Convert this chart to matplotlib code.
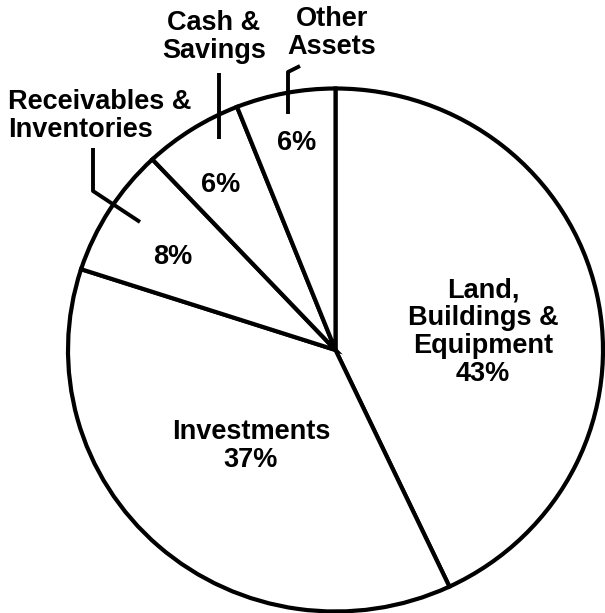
import matplotlib.pyplot as plt

# slices, clockwise from 12 o'clock
labels = ['Land,\nBuildings &\nEquipment', 'Investments', 'Receivables &\nInventories',
          'Cash &\nSavings', 'Other\nAssets']
shares = [43, 37, 8, 6, 6]

plt.rcParams['font.family'] = ['Liberation Sans', 'DejaVu Sans']

W, H = 605, 613
CX, CY, RX, RY = 335.5, 350, 267.5, 261.5


def px(x, y):
    # picture pixel -> data coords (pie centred at 0,0 with radius 1)
    return (x - CX) / RX, (CY - y) / RY


fig = plt.figure(figsize=(W / 100, H / 100), dpi=100)
ax = fig.add_axes([0, 0, 1, 1])
ax.pie(shares, startangle=90, counterclock=False, radius=1,
       colors=['white'] * len(shares),
       wedgeprops=dict(edgecolor='black', linewidth=3.0))
ax.set_aspect('auto')
x0, y0 = px(0, H)
x1, y1 = px(W, 0)
ax.set_xlim(x0, x1)
ax.set_ylim(y0, y1)
ax.axis('off')

fs = 19.5
tk = dict(fontsize=fs, fontweight='bold', ha='center', va='center', linespacing=1.1)

# labels inside the big slices
ax.text(*px(483, 332), f'{labels[0]}\n{shares[0]}%', **tk)
ax.text(*px(251, 446), f'{labels[1]}\n{shares[1]}%', **tk)

# small slices: percentages inside, names outside with leader lines
ax.text(*px(173, 257), f'{shares[2]}%', **tk)
ax.text(*px(221, 185), f'{shares[3]}%', **tk)
ax.text(*px(297, 143), f'{shares[4]}%', **tk)

ax.text(*px(8, 116), labels[2], fontsize=fs, fontweight='bold', ha='left', va='center',
        linespacing=1.1)
ax.text(*px(214, 37), labels[3], **tk)
ax.text(*px(332, 33), labels[4], **tk)

lw = 2.8
leaders = [
    [(93, 148), (93, 191), (140, 222)],
    [(219, 73), (219, 139)],
    [(300, 66), (288, 72), (288, 114)],
]
for pts in leaders:
    xs, ys = zip(*[px(*p) for p in pts])
    ax.plot(xs, ys, color='black', linewidth=lw, solid_capstyle='butt')

fig.savefig('out.png', dpi=100, facecolor='white')
